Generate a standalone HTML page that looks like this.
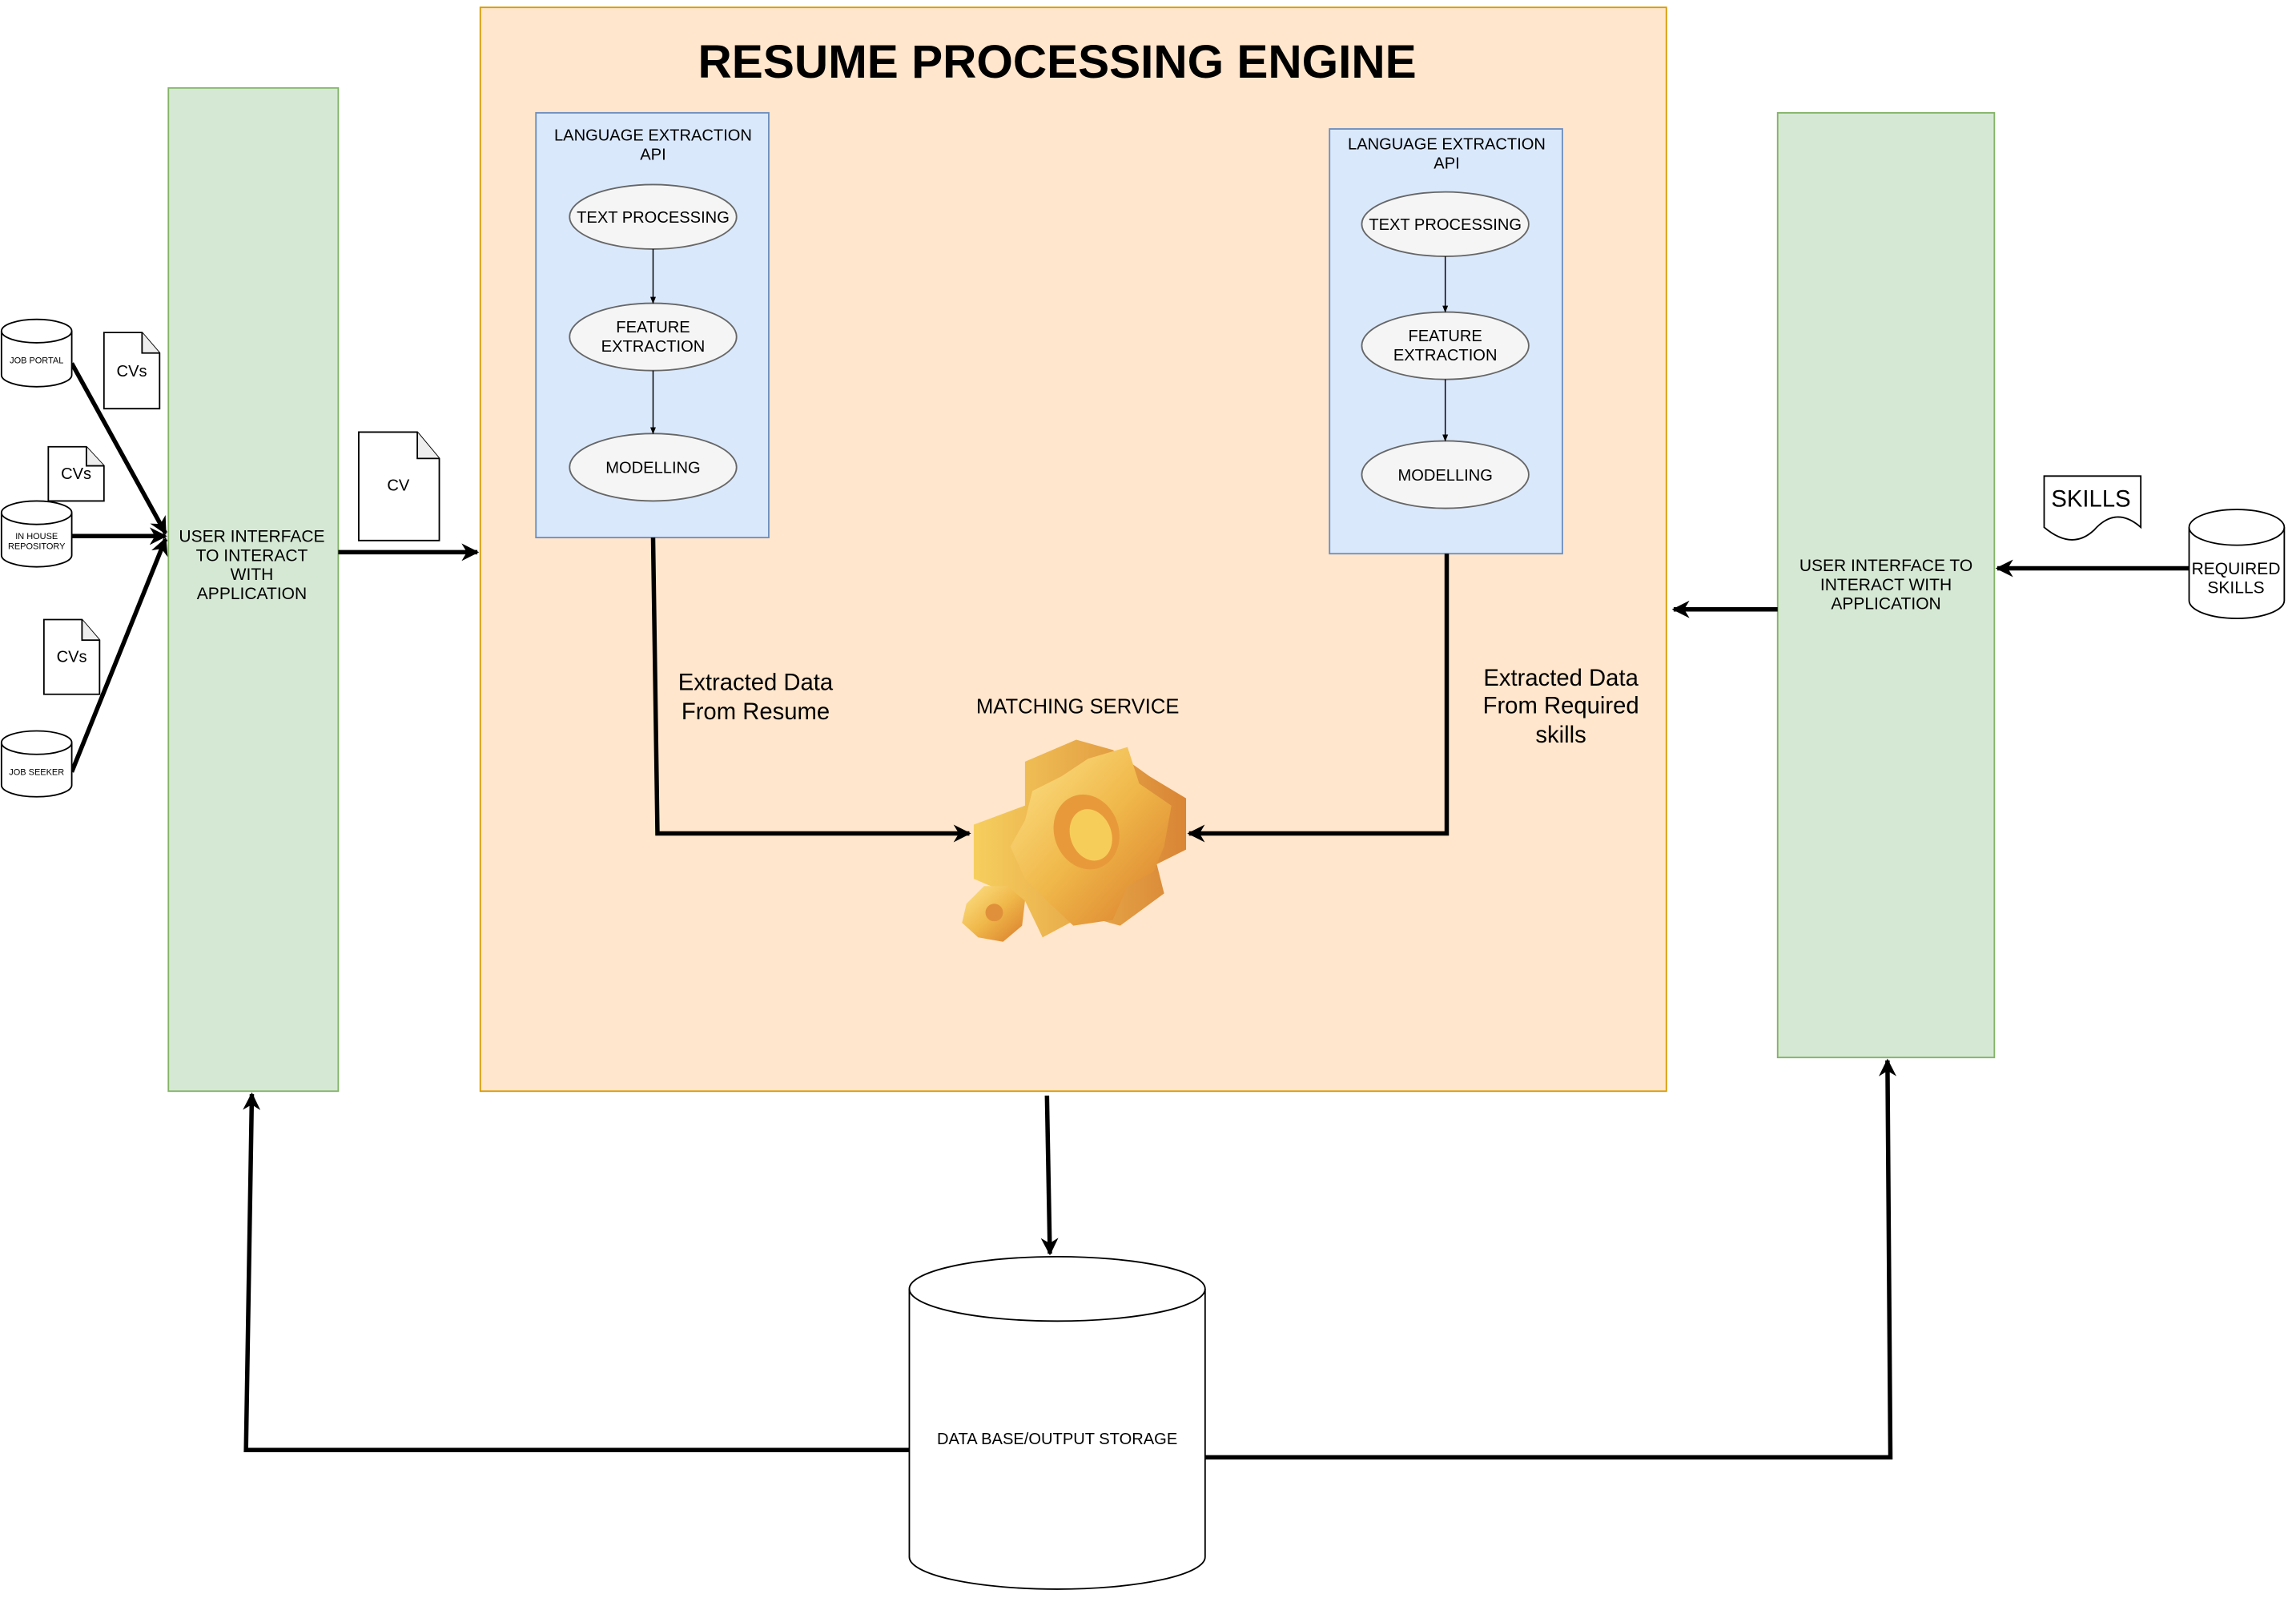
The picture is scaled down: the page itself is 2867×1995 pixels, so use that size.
<!DOCTYPE html>
<html><head><meta charset="utf-8"><style>html,body{margin:0;padding:0;background:#fff}svg{display:block}text{font-family:"Liberation Sans",sans-serif;fill:#000}</style></head><body>
<svg width="2867" height="1995" viewBox="0 0 1568 1091" xmlns="http://www.w3.org/2000/svg">
<defs>
<marker id="a" viewBox="0 0 10 10" refX="9" refY="5" markerWidth="4" markerHeight="4" orient="auto-start-reverse"><path d="M0,0 L10,5 L0,10 L3,5z" fill="#000"/></marker>
<marker id="s" viewBox="0 0 10 10" refX="9" refY="5" markerWidth="6" markerHeight="6" orient="auto"><path d="M0,1 L10,5 L0,9z" fill="#000"/></marker>
<linearGradient id="g" x1="0" y1="0" x2="1" y2="1"><stop offset="0" stop-color="#fde38a"/><stop offset="0.5" stop-color="#f0b84a"/><stop offset="1" stop-color="#d97b2a"/></linearGradient>
<linearGradient id="g2" x1="0" y1="0" x2="1" y2="0"><stop offset="0" stop-color="#f6cf5e"/><stop offset="1" stop-color="#d98535"/></linearGradient>
</defs>
<!-- left UI -->
<rect x="115" y="60" width="116" height="685" fill="#d5e8d4" stroke="#82b366"/>
<text font-size="11.5" text-anchor="middle"><tspan x="172" y="370">USER INTERFACE</tspan><tspan x="172" y="383">TO INTERACT</tspan><tspan x="172" y="396">WITH</tspan><tspan x="172" y="409">APPLICATION</tspan></text>
<!-- engine -->
<rect x="328" y="5" width="810" height="740" fill="#ffe6cc" stroke="#d79b00"/>
<text x="722" y="53" font-size="32" font-weight="bold" text-anchor="middle">RESUME PROCESSING ENGINE</text>
<!-- APIs -->
<g font-size="11" text-anchor="middle">
<rect x="366" y="77" width="159" height="290" fill="#dae8fc" stroke="#6c8ebf"/>
<text><tspan x="446" y="96">LANGUAGE EXTRACTION</tspan><tspan x="446" y="109">API</tspan></text>
<ellipse cx="446" cy="148" rx="57" ry="22" fill="#f5f5f5" stroke="#666"/><text x="446" y="152">TEXT PROCESSING</text>
<ellipse cx="446" cy="230" rx="57" ry="23" fill="#f5f5f5" stroke="#666"/><text><tspan x="446" y="227">FEATURE</tspan><tspan x="446" y="240">EXTRACTION</tspan></text>
<ellipse cx="446" cy="319" rx="57" ry="23" fill="#f5f5f5" stroke="#666"/><text x="446" y="323">MODELLING</text>
<line x1="446" y1="170" x2="446" y2="207" stroke="#000" stroke-width="0.8" marker-end="url(#s)"/>
<line x1="446" y1="253" x2="446" y2="296" stroke="#000" stroke-width="0.8" marker-end="url(#s)"/>
<rect x="908" y="88" width="159" height="290" fill="#dae8fc" stroke="#6c8ebf"/>
<text><tspan x="988" y="102">LANGUAGE EXTRACTION</tspan><tspan x="988" y="115">API</tspan></text>
<ellipse cx="987" cy="153" rx="57" ry="22" fill="#f5f5f5" stroke="#666"/><text x="987" y="157">TEXT PROCESSING</text>
<ellipse cx="987" cy="236" rx="57" ry="23" fill="#f5f5f5" stroke="#666"/><text><tspan x="987" y="233">FEATURE</tspan><tspan x="987" y="246">EXTRACTION</tspan></text>
<ellipse cx="987" cy="324" rx="57" ry="23" fill="#f5f5f5" stroke="#666"/><text x="987" y="328">MODELLING</text>
<line x1="987" y1="175" x2="987" y2="213" stroke="#000" stroke-width="0.8" marker-end="url(#s)"/>
<line x1="987" y1="259" x2="987" y2="301" stroke="#000" stroke-width="0.8" marker-end="url(#s)"/>
</g>
<!-- connectors to gear -->
<g fill="none" stroke="#000" stroke-width="3">
<path d="M446,367 L449,569 L662,569" marker-end="url(#a)"/>
<path d="M988,378 L988,569 L812,569" marker-end="url(#a)"/>
</g>
<text font-size="16" text-anchor="middle"><tspan x="516" y="471">Extracted Data</tspan><tspan x="516" y="491">From Resume</tspan></text>
<text x="736" y="487" font-size="14" text-anchor="middle">MATCHING SERVICE</text>
<text font-size="16" text-anchor="middle"><tspan x="1066" y="468">Extracted Data</tspan><tspan x="1066" y="487">From Required</tspan><tspan x="1066" y="507">skills</tspan></text>
<!-- gear -->
<g>
<path d="M665,563 L700,550 L700,520 L735,505 L760,512 L785,530 L810,545 L810,580 L790,590 L795,610 L765,632 L740,625 L712,640 L700,615 L665,600 Z" fill="url(#g2)"/>
<path d="M743,518 L770,510 L778,535 L800,550 L795,578 L788,595 L770,605 L760,628 L733,632 L715,615 L700,600 L690,578 L700,560 L705,540 L725,530 Z" fill="url(#g)"/>
<ellipse cx="742" cy="568" rx="22" ry="26" transform="rotate(-20 742 568)" fill="#e89a3a"/>
<ellipse cx="745" cy="570" rx="14" ry="18" transform="rotate(-20 745 570)" fill="#f7cd5a"/>
<path d="M660,617 L672,605 L688,605 L700,615 L698,632 L685,643 L668,640 L657,630 Z" fill="url(#g)"/>
<circle cx="679" cy="623" r="6" fill="#e0903a"/>
</g>
<!-- right UI -->
<rect x="1214" y="77" width="148" height="645" fill="#d5e8d4" stroke="#82b366"/>
<text font-size="11.5" text-anchor="middle"><tspan x="1288" y="390">USER INTERFACE TO</tspan><tspan x="1288" y="403">INTERACT WITH</tspan><tspan x="1288" y="416">APPLICATION</tspan></text>
<g fill="none" stroke="#000" stroke-width="3">
<line x1="1214" y1="416" x2="1143" y2="416" marker-end="url(#a)"/>
<line x1="1495" y1="388" x2="1364" y2="388" marker-end="url(#a)"/>
<line x1="231" y1="377" x2="326" y2="377" marker-end="url(#a)"/>
<line x1="49" y1="248" x2="113" y2="364" marker-end="url(#a)"/>
<line x1="49" y1="366" x2="113" y2="366" marker-end="url(#a)"/>
<line x1="49" y1="527" x2="113" y2="368" marker-end="url(#a)"/>
<line x1="715" y1="748" x2="717" y2="856" marker-end="url(#a)"/>
<path d="M621,990 L168,990 L172,747" marker-end="url(#a)"/>
<path d="M823,995 L1291,995 L1289,724" marker-end="url(#a)"/>
</g>
<!-- required skills -->
<g stroke="#000" fill="#fff">
<path d="M1495,360 A32,12 0 0 1 1560,360 L1560,410 A32,12 0 0 1 1495,410 Z"/>
<path d="M1495,360 A32,12 0 0 0 1560,360" fill="none"/>
<path d="M1396,325 L1462,325 L1462,360 Q1445,345 1430,362 Q1415,376 1396,360 Z"/>
<!-- left cylinders -->
<path d="M1,226 A24,8 0 0 1 49,226 L49,256 A24,8 0 0 1 1,256 Z"/><path d="M1,226 A24,8 0 0 0 49,226" fill="none"/>
<path d="M1,350 A24,8 0 0 1 49,350 L49,379 A24,8 0 0 1 1,379 Z"/><path d="M1,350 A24,8 0 0 0 49,350" fill="none"/>
<path d="M1,507 A24,8 0 0 1 49,507 L49,536 A24,8 0 0 1 1,536 Z"/><path d="M1,507 A24,8 0 0 0 49,507" fill="none"/>
<!-- docs -->
<path d="M71,227 L97,227 L109,241 L109,279 L71,279 Z"/><path d="M97,227 L97,241 L109,241" fill="#eee"/>
<path d="M33,305 L59,305 L71,318 L71,342 L33,342 Z"/><path d="M59,305 L59,318 L71,318" fill="#eee"/>
<path d="M30,423 L56,423 L68,437 L68,474 L30,474 Z"/><path d="M56,423 L56,437 L68,437" fill="#eee"/>
<path d="M245,295 L285,295 L300,313 L300,369 L245,369 Z"/><path d="M285,295 L285,313 L300,313" fill="#eee"/>
<!-- DB -->
<path d="M621,880 A101,22 0 0 1 823,880 L823,1063 A101,22 0 0 1 621,1063 Z"/><path d="M621,880 A101,22 0 0 0 823,880" fill="none"/>
</g>
<text x="1527" y="392" font-size="11.5" text-anchor="middle">REQUIRED</text><text x="1527" y="405" font-size="11.5" text-anchor="middle">SKILLS</text>
<text x="1428" y="346" font-size="16" text-anchor="middle">SKILLS</text>
<text font-size="6" text-anchor="middle"><tspan x="25" y="248">JOB PORTAL</tspan><tspan x="25" y="368">IN HOUSE</tspan><tspan x="25" y="375">REPOSITORY</tspan><tspan x="25" y="529">JOB SEEKER</tspan></text>
<text font-size="11" text-anchor="middle"><tspan x="90" y="257">CVs</tspan><tspan x="52" y="327">CVs</tspan><tspan x="49" y="452">CVs</tspan><tspan x="272" y="335">CV</tspan></text>
<text x="722" y="986" font-size="11" text-anchor="middle">DATA BASE/OUTPUT STORAGE</text>
</svg>
</body></html>
